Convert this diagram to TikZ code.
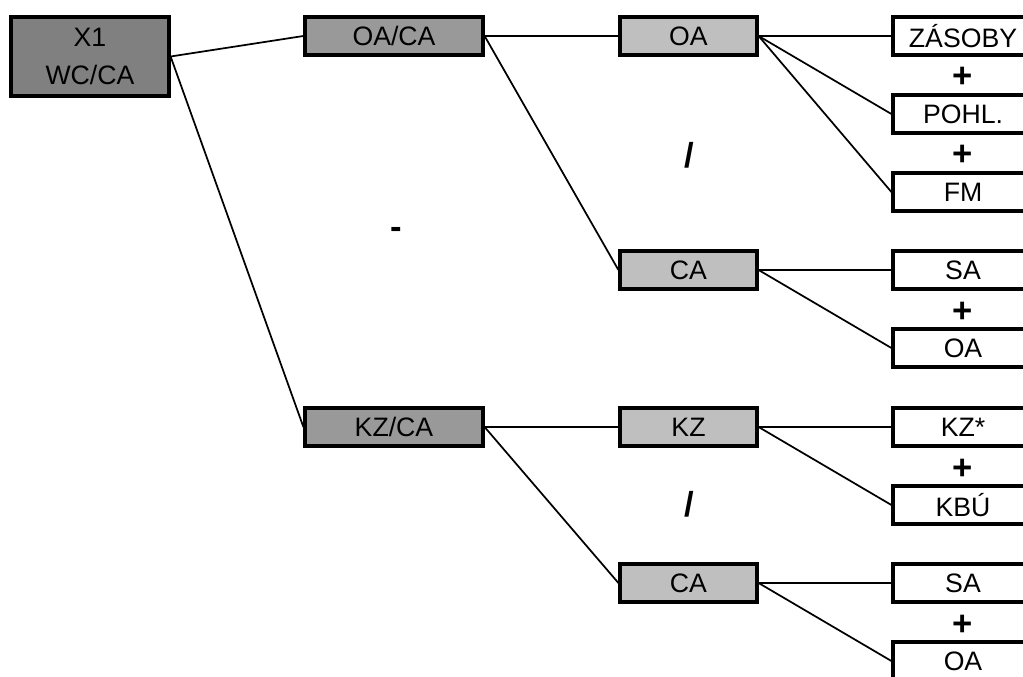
\documentclass[tikz,border=0pt]{standalone}
\usepackage{fontspec}
\setmainfont{Liberation Sans}
\definecolor{topgray}{gray}{0.5}
\definecolor{darkbox}{gray}{0.6}
\definecolor{lightbox}{gray}{0.75}
\begin{document}
\begin{tikzpicture}[x=0.75pt, y=-0.75pt,
    box/.style = {draw, line width=2.4pt, inner sep=0pt, font=\fontsize{20}{24}\selectfont},
    topbox/.style = {box, fill=topgray, minimum width=118.5pt, minimum height=59.25pt, align=center, font=\fontsize{20}{28}\selectfont},
    ratiobox/.style = {box, fill=darkbox, minimum width=133.5pt, minimum height=28.5pt},
    partbox/.style = {box, fill=lightbox, minimum width=102.75pt, minimum height=28.5pt},
    itembox/.style = {box, fill=white, minimum width=105pt, minimum height=28.5pt},
    sign/.style = {font=\fontsize{26}{28}\selectfont\bfseries},
    link/.style = {line width=1.3pt}]
    \useasboundingbox (0,0) rectangle (1023,677);
    \node[topbox] (x1) at (90,56.5) {X1\\WC/CA};
    \node[ratiobox] (oaca) at (394,36) {OA/CA};
    \node[ratiobox] (kzca) at (394,427) {KZ/CA};
    \node[partbox] (oa) at (688.5,36) {OA};
    \node[partbox] (ca) at (688.5,270) {CA};
    \node[partbox] (kz) at (688.5,427) {KZ};
    \node[partbox] (cb) at (688.5,583) {CA};
    \node[itembox] (zas) at (963,36) {ZÁSOBY};
    \node[itembox] (pohl) at (963,114) {POHL.};
    \node[itembox] (fm) at (963,192) {FM};
    \node[itembox] (sa) at (963,270) {SA};
    \node[itembox] (oab) at (963,348) {OA};
    \node[itembox] (kzs) at (963,427) {KZ*};
    \node[itembox] (kbu) at (963,505) {KBÚ};
    \node[itembox] (sab) at (963,583) {SA};
    \node[itembox] (oac) at (963,661) {OA};
    % operators
    \node[sign] (p1) at (963,77) {+};
    \node[sign] (p2) at (963,155) {+};
    \node[sign] (p3) at (963,312) {+};
    \node[sign] (p4) at (963,469) {+};
    \node[sign] (p5) at (963,625) {+};
    \node[sign] (d1) at (689,155) {/};
    \node[sign] (d2) at (689,504) {/};
    \node[sign] (m1) at (396,233) {-};
    % connectors
    \draw[link] (x1.east) -- (oaca.west);
    \draw[link] (x1.east) -- (kzca.west);
    \draw[link] (oaca.east) -- (oa.west);
    \draw[link] (oaca.east) -- (ca.west);
    \draw[link] (kzca.east) -- (kz.west);
    \draw[link] (kzca.east) -- (cb.west);
    \draw[link] (oa.east) -- (zas.west);
    \draw[link] (oa.east) -- (pohl.west);
    \draw[link] (oa.east) -- (fm.west);
    \draw[link] (ca.east) -- (sa.west);
    \draw[link] (ca.east) -- (oab.west);
    \draw[link] (kz.east) -- (kzs.west);
    \draw[link] (kz.east) -- (kbu.west);
    \draw[link] (cb.east) -- (sab.west);
    \draw[link] (cb.east) -- (oac.west);
\end{tikzpicture}
\end{document}
